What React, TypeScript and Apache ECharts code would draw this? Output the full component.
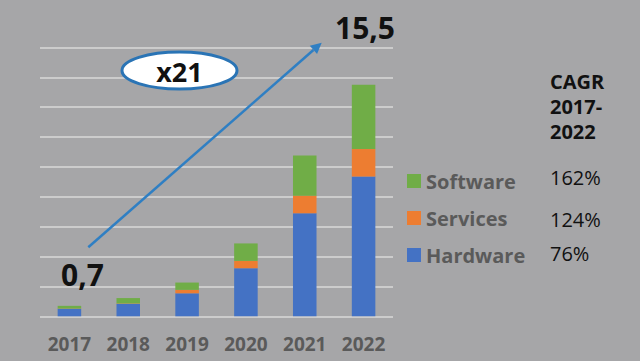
import React, { useEffect, useRef } from "react";
import * as echarts from "echarts";

const years = ["2017", "2018", "2019", "2020", "2021", "2022"];
const hardware = [0.5, 0.83, 1.54, 3.22, 6.9, 9.36];
const services = [0.02, 0.03, 0.23, 0.49, 1.18, 1.84];
const software = [0.18, 0.36, 0.49, 1.17, 2.68, 4.3];
const legendOrder = ["Software", "Services", "Hardware"];
const cagrTitle = "CAGR\n2017-\n2022";
const cagrValues = ["162%", "124%", "76%"];
const startLabel = "0,7";
const endLabel = "15,5";
const multiple = "x21";

const FONT = "'Open Sans', 'DejaVu Sans', sans-serif";

export default function App() {
  const ref = useRef<HTMLDivElement>(null);
  useEffect(() => {
    if (!ref.current) return;
    const chart = echarts.init(ref.current, null, { renderer: "svg" });
    const arrowColor = "#2f7fc3";
    const tip = [321.7, 42.7];
    const start = [88.3, 247.3];
    const dx = tip[0] - start[0];
    const dy = tip[1] - start[1];
    const len = Math.sqrt(dx * dx + dy * dy);
    const ux = dx / len;
    const uy = dy / len;
    const px = -uy;
    const py = ux;
    const base = [tip[0] - 11 * ux, tip[1] - 11 * uy];
    chart.setOption({
      animation: false,
      backgroundColor: "#a6a6a8",
      textStyle: { fontFamily: FONT },
      grid: { left: 40, right: 247, top: 47.5, bottom: 44.7 },
      legend: {
        data: legendOrder,
        orient: "vertical",
        left: 402,
        top: 166,
        icon: "rect",
        itemWidth: 14,
        itemHeight: 14,
        itemGap: 17,
        itemStyle: { borderWidth: 0 },
        textStyle: {
          fontFamily: FONT,
          fontSize: 20,
          fontWeight: "bold",
          color: "#5a5a5a",
          lineHeight: 20,
        },
      },
      xAxis: {
        type: "category",
        data: years,
        axisLine: { show: false },
        axisTick: { show: false },
        axisLabel: {
          fontFamily: FONT,
          fontSize: 19,
          fontWeight: "bold",
          color: "#5a5a5a",
          margin: 18,
        },
      },
      yAxis: {
        type: "value",
        min: 0,
        max: 18,
        interval: 2,
        axisLabel: { show: false },
        axisLine: { show: false },
        axisTick: { show: false },
        splitLine: { lineStyle: { color: "#d9d9d9", width: 1.5 } },
      },
      series: [
        {
          name: "Hardware",
          type: "bar",
          stack: "total",
          barWidth: "40%",
          itemStyle: { color: "#4472c4" },
          data: hardware,
        },
        {
          name: "Services",
          type: "bar",
          stack: "total",
          barWidth: "40%",
          itemStyle: { color: "#ed7d31" },
          data: services,
        },
        {
          name: "Software",
          type: "bar",
          stack: "total",
          barWidth: "40%",
          itemStyle: { color: "#70ad47" },
          data: software,
        },
      ],
      graphic: [
        {
          type: "line",
          shape: { x1: start[0], y1: start[1], x2: base[0], y2: base[1] },
          style: { stroke: arrowColor, lineWidth: 2.5 },
          z: 10,
        },
        {
          type: "polygon",
          shape: {
            points: [
              [tip[0], tip[1]],
              [base[0] + 5.5 * px, base[1] + 5.5 * py],
              [base[0] - 5.5 * px, base[1] - 5.5 * py],
            ],
          },
          style: { fill: arrowColor },
          z: 10,
        },
        {
          type: "ellipse",
          shape: { cx: 179.5, cy: 70.5, rx: 57.5, ry: 18.5 },
          style: { fill: "#ffffff", stroke: "#2a74b5", lineWidth: 3 },
          z: 11,
        },
        {
          type: "text",
          x: 179.5,
          y: 71,
          style: {
            text: multiple,
            fontFamily: FONT,
            fontSize: 27,
            fontWeight: "bold",
            fill: "#111111",
            align: "center",
            verticalAlign: "middle",
          },
          z: 12,
        },
        {
          type: "text",
          x: 82.5,
          y: 274,
          style: {
            text: startLabel,
            fontFamily: FONT,
            fontSize: 30,
            fontWeight: "bold",
            fill: "#111111",
            align: "center",
            verticalAlign: "middle",
          },
          z: 12,
        },
        {
          type: "text",
          x: 365,
          y: 27,
          style: {
            text: endLabel,
            fontFamily: FONT,
            fontSize: 30,
            fontWeight: "bold",
            fill: "#111111",
            align: "center",
            verticalAlign: "middle",
          },
          z: 12,
        },
        {
          type: "text",
          x: 550,
          y: 69,
          style: {
            text: cagrTitle,
            fontFamily: FONT,
            fontSize: 20,
            fontWeight: "bold",
            lineHeight: 25,
            fill: "#111111",
            align: "left",
            verticalAlign: "top",
          },
          z: 12,
        },
        ...cagrValues.map((v, i) => ({
          type: "text",
          x: 550,
          y: [177, 219, 253][i],
          style: {
            text: v,
            fontFamily: FONT,
            fontSize: 20,
            fill: "#111111",
            align: "left",
            verticalAlign: "middle",
          },
          z: 12,
        })),
      ],
    });
    return () => chart.dispose();
  }, []);
  return (
    <div
      ref={ref}
      style={{ position: "fixed", left: 0, top: 0, width: 640, height: 361 }}
    />
  );
}
